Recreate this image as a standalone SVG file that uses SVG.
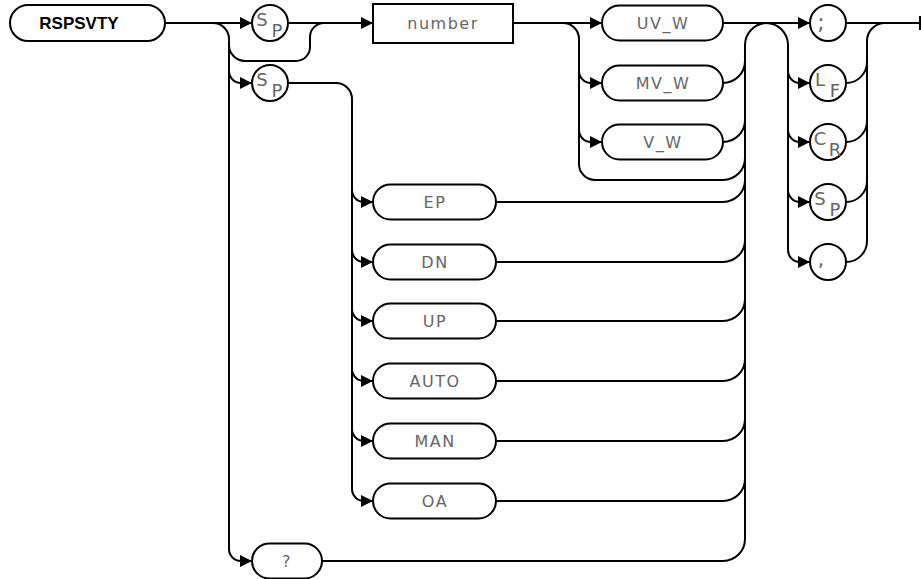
<svg xmlns="http://www.w3.org/2000/svg" width="921" height="579" viewBox="0 0 921 579">
<style>
.n{fill:#fff;stroke:#000;stroke-width:2}
.c{fill:none;stroke:#000;stroke-width:2}
.a{marker-end:url(#ar)}
.t{font-family:"DejaVu Sans","Liberation Sans",sans-serif;font-size:16px;fill:#666;text-anchor:middle;letter-spacing:1.5px}
.s{font-family:"DejaVu Sans","Liberation Sans",sans-serif;font-size:18px;fill:#666;text-anchor:middle}
.k{font-family:"Liberation Sans",Arial,sans-serif;font-size:17px;font-weight:bold;fill:#000;text-anchor:middle}
</style>
<defs>
<marker id="ar" markerUnits="userSpaceOnUse" markerWidth="14" markerHeight="14" refX="12" refY="6" orient="auto">
<path d="M0,0 L12,6 L0,12 Z" fill="#000"/>
</marker>
</defs>
<rect width="921" height="579" fill="#fff"/>
<g id="connectors">
<path class="c a" d="M165,23 H252"/>
<path class="c a" d="M213,23 A16,16 0 0 1 229,39 V549 A12,12 0 0 0 241,561 H252"/>
<path class="c a" d="M229,71 A12,12 0 0 0 241,83 H252"/>
<path class="c" d="M229,45 A16,16 0 0 0 245,61 H296 A14,14 0 0 0 310,47 V37 A14,14 0 0 1 324,23"/>
<path class="c a" d="M288,23 H373"/>
<path class="c a" d="M288,83 H336 A16,16 0 0 1 352,99 V489 A12,12 0 0 0 364,501 H373"/>
<path class="c a" d="M352,190 A12,12 0 0 0 364,202 H373"/>
<path class="c a" d="M352,250 A12,12 0 0 0 364,262 H373"/>
<path class="c a" d="M352,309 A12,12 0 0 0 364,321 H373"/>
<path class="c a" d="M352,369 A12,12 0 0 0 364,381 H373"/>
<path class="c a" d="M352,429 A12,12 0 0 0 364,441 H373"/>
<path class="c a" d="M513,23 H602"/>
<path class="c" d="M563,23 A16,16 0 0 1 579,39 V164 A16,16 0 0 0 595,180 H723 A22,22 0 0 0 745,158"/>
<path class="c a" d="M579,71 A12,12 0 0 0 591,83 H602"/>
<path class="c a" d="M579,130 A12,12 0 0 0 591,142 H602"/>
<path class="c a" d="M723,23 H810"/>
<path class="c" d="M723,83 A22,22 0 0 0 745,61"/>
<path class="c" d="M723,142 A22,22 0 0 0 745,120"/>
<path class="c" d="M496,202 H723 A22,22 0 0 0 745,180"/>
<path class="c" d="M496,262 H723 A22,22 0 0 0 745,240"/>
<path class="c" d="M496,321 H723 A22,22 0 0 0 745,299"/>
<path class="c" d="M496,381 H723 A22,22 0 0 0 745,359"/>
<path class="c" d="M496,441 H723 A22,22 0 0 0 745,419"/>
<path class="c" d="M496,501 H723 A22,22 0 0 0 745,479"/>
<path class="c" d="M322,561 H723 A22,22 0 0 0 745,539"/>
<path class="c" d="M745,539 V45 A22,22 0 0 1 767,23"/>
<path class="c a" d="M766,23 A22,22 0 0 1 788,45 V250 A12,12 0 0 0 800,262 H810"/>
<path class="c a" d="M788,71 A12,12 0 0 0 800,83 H810"/>
<path class="c a" d="M788,130 A12,12 0 0 0 800,142 H810"/>
<path class="c a" d="M788,190 A12,12 0 0 0 800,202 H810"/>
<path class="c" d="M846,23 H920 M920,16 V30"/>
<path class="c" d="M867,241 V41 A18,18 0 0 1 885,23"/>
<path class="c" d="M846,83 A21,21 0 0 0 867,62"/>
<path class="c" d="M846,142 A21,21 0 0 0 867,121"/>
<path class="c" d="M846,202 A21,21 0 0 0 867,181"/>
<path class="c" d="M846,262 A21,21 0 0 0 867,241"/>
</g>
<g id="n-rspsvty"><rect class="n" x="10" y="5" width="155" height="36" rx="18"/><text class="k" x="79" y="29">RSPSVTY</text></g>
<g id="n-sp1"><circle class="n" cx="270" cy="23" r="18"/><text class="s" x="262" y="26">S</text><text class="s" x="277" y="37">P</text></g>
<g id="n-sp2"><circle class="n" cx="270" cy="83" r="18"/><text class="s" x="262" y="86">S</text><text class="s" x="277" y="97">P</text></g>
<g id="n-number"><rect class="n" x="373" y="4" width="140" height="39"/><text class="t" x="443" y="29">number</text></g>
<g id="n-uvw"><rect class="n" x="602" y="5.5" width="121" height="35" rx="17.5"/><text class="t" x="663" y="29">UV_W</text></g>
<g id="n-mvw"><rect class="n" x="602" y="65.5" width="121" height="35" rx="17.5"/><text class="t" x="663" y="89">MV_W</text></g>
<g id="n-vw"><rect class="n" x="602" y="124.5" width="121" height="35" rx="17.5"/><text class="t" x="663" y="148">V_W</text></g>
<g id="n-ep"><rect class="n" x="373" y="184.5" width="123" height="35" rx="17.5"/><text class="t" x="435" y="208">EP</text></g>
<g id="n-dn"><rect class="n" x="373" y="244.5" width="123" height="35" rx="17.5"/><text class="t" x="435" y="268">DN</text></g>
<g id="n-up"><rect class="n" x="373" y="303.5" width="123" height="35" rx="17.5"/><text class="t" x="435" y="327">UP</text></g>
<g id="n-auto"><rect class="n" x="373" y="363.5" width="123" height="35" rx="17.5"/><text class="t" x="435" y="387">AUTO</text></g>
<g id="n-man"><rect class="n" x="373" y="423.5" width="123" height="35" rx="17.5"/><text class="t" x="435" y="447">MAN</text></g>
<g id="n-oa"><rect class="n" x="373" y="483.5" width="123" height="35" rx="17.5"/><text class="t" x="435" y="507">OA</text></g>
<g id="n-query"><rect class="n" x="252" y="543.5" width="70" height="35" rx="17.5"/><text class="t" x="287" y="567">?</text></g>
<g id="n-semi"><circle class="n" cx="828" cy="23" r="18"/><text class="s" x="821" y="30" style="font-size:22px">;</text></g>
<g id="n-lf"><circle class="n" cx="828" cy="83" r="18"/><text class="s" x="820" y="86">L</text><text class="s" x="835" y="97">F</text></g>
<g id="n-cr"><circle class="n" cx="828" cy="142" r="18"/><text class="s" x="820" y="145">C</text><text class="s" x="835" y="156">R</text></g>
<g id="n-sp3"><circle class="n" cx="828" cy="202" r="18"/><text class="s" x="820" y="205">S</text><text class="s" x="835" y="216">P</text></g>
<g id="n-comma"><circle class="n" cx="828" cy="262" r="18"/><text class="s" x="821" y="266" style="font-size:20px">,</text></g>
</svg>
